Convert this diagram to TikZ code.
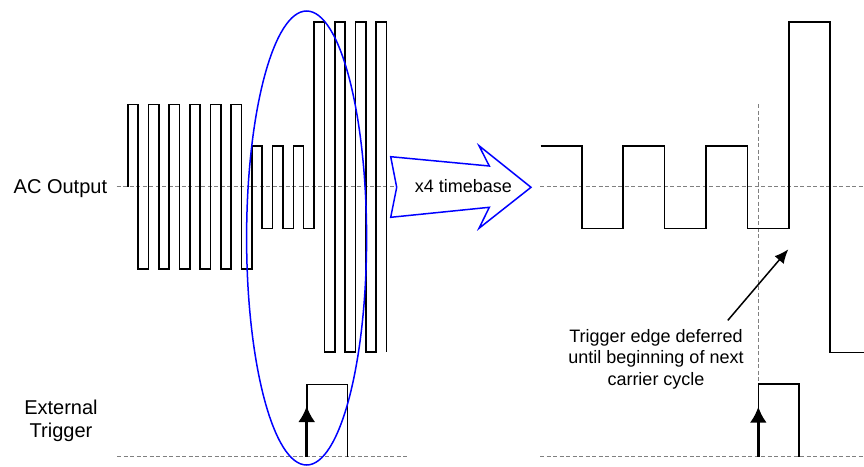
\documentclass[tikz,border=0pt]{standalone}
\usepackage{fontspec}
\setmainfont{Liberation Sans}
\usetikzlibrary{arrows.meta}

\begin{document}
\begin{tikzpicture}[x=1pt, y=-1pt,
  wave/.style={draw, line width=1.6pt},
  axis/.style={draw, gray, line width=1pt, dash pattern=on 4pt off 2.5pt},
  label/.style={font=\fontsize{20}{23}\selectfont, align=center, inner sep=0pt},
  note/.style={font=\fontsize{18}{21.3}\selectfont, align=center, inner sep=0pt},
  trig/.style={draw, line width=2.6pt, -{Latex[length=16pt, width=17pt]}},
  pointer/.style={draw, line width=1.5pt, -{Latex[length=14pt, width=12pt]}},
  ]
  \useasboundingbox (0,0) rectangle (864,466);

  % zero lines
  \path[axis] (116.7,186.7) -- (396,186.7);
  \path[axis] (540,186.7) -- (864,186.7);
  \path[axis] (117,456.7) -- (406.7,456.7);
  \path[axis] (540,456.7) -- (864,456.7);
  \path[axis] (758.3,104) -- (758.3,384);

  \node (ac output) [label, anchor=base east] at (107.3,193.3) {AC Output};
  \node (ext trigger) [label] at (61,420.8) {External\\Trigger};

  % carrier before the x4 timebase
  \path[wave] (127.7,186.7)
    \foreach \i in {0,2,...,10} { |- ({127.7+10.35*(\i+1)},104.3) |- ({127.7+10.35*(\i+2)},269) }
    \foreach \i in {12,14,16} { |- ({127.7+10.35*(\i+1)},146) |- ({127.7+10.35*(\i+2)},228.3) }
    \foreach \i in {18,20,22} { |- ({127.7+10.35*(\i+1)},21.7) |- ({127.7+10.35*(\i+2)},351.7) }
    |- (386.45,21.7) -- (386.45,351.7);
  \path[wave] (306.7,456.7) |- (347.3,384.3) -- (347.3,456.7);
  \path[trig] (306.7,456.7) -- (306.7,406);

  % carrier after the x4 timebase
  \path[wave] (540.7,145.7) -- (581.7,145.7)
    \foreach \i in {0,2} { |- ({581.7+41.4*(\i+1)},228.3) |- ({581.7+41.4*(\i+2)},145.7) }
    |- (788.7,228.3) |- (830.1,21.7) |- (870,352.3);
  \path[wave] (758.3,456.7) |- (799,384) -- (799,456.7);
  \path[trig] (758.3,456.7) -- (758.3,406.7);

  \path[draw=blue, fill=white, line width=1.5pt] (390.7,156.7) -- (489.3,166) -- (479,145.7)
    -- (531,187.3) -- (479,228.3) -- (489.3,207.3) -- (390.7,217.3) -- (396.7,187.3) -- cycle;
  \node (timebase) [note] at (463.3,186.2) {x4 timebase};

  \draw[blue, line width=1.5pt] (306.6,238) ellipse [x radius=60, y radius=227];

  \node (deferral) [note] at (656,359.3) {Trigger edge deferred\\until beginning of next\\carrier cycle};
  \coordinate (next edge) at (788.3,249.3);
  \path[pointer] ([xshift=-16pt, yshift=9pt]deferral.north east) -- (next edge);
\end{tikzpicture}
\end{document}
